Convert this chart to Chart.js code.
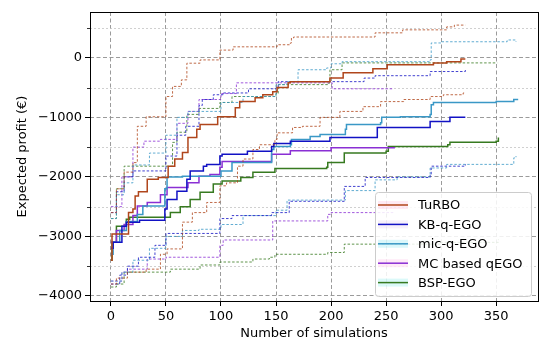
<!DOCTYPE html>
<html>
<head>
<meta charset="utf-8">
<script src="https://cdn.jsdelivr.net/npm/chart.js@4/dist/chart.umd.min.js"></script>
<style>
  html, body { margin: 0; padding: 0; background: #fff; }
</style>
</head>
<body>
<canvas id="chart" width="550" height="346"></canvas>
<script>
// --- DATA ---
const xTicks = [0, 50, 100, 150, 200, 250, 300, 350];
const yTicks = [-4000, -3000, -2000, -1000, 0];
const yMinorTicks = [-3500, -2500, -1500, -500, 500];

const seriesNames = ['TuRBO', 'KB-q-EGO', 'mic-q-EGO', 'MC based qEGO', 'BSP-EGO'];
const seriesColors = ['#b0461c', '#1212c4', '#3a98c6', '#8a2fd4', '#377a20'];
const patchColors = ['rgba(255,105,180,0.14)', 'rgba(200,150,230,0.14)', 'rgba(0,200,220,0.14)', 'rgba(255,105,200,0.14)', 'rgba(0,210,210,0.14)'];

// [simulations, expected profit]
const turboMean = [[0,-3400],[1,-2960],[15,-2960],[16,-2600],[20,-2540],[22,-2320],[25,-2250],[33,-2040],[43,-2010],[52,-1820],[58,-1700],[65,-1590],[70,-1340],[78,-1200],[81,-1120],[97,-990],[113,-840],[117,-735],[131,-670],[138,-620],[147,-570],[151,-500],[161,-420],[163,-400],[199,-340],[211,-250],[238,-185],[251,-115],[293,-85],[305,-65],[318,-20],[322,-20]];
const turboUpper = [[0,-2600],[5,-2200],[12,-1920],[20,-1760],[24,-1150],[32,-990],[50,-650],[56,-480],[64,-370],[69,-90],[81,-35],[99,130],[111,185],[151,220],[163,250],[164,335],[166,350],[240,420],[265,470],[305,520],[312,550],[322,550]];
const turboLower = [[0,-3800],[5,-3700],[15,-3600],[32,-3550],[45,-3300],[51,-3210],[65,-2760],[74,-2600],[87,-2430],[99,-2150],[105,-2100],[115,-1820],[120,-1700],[129,-1540],[135,-1460],[149,-1370],[151,-1260],[165,-1170],[174,-1150],[190,-1000],[208,-900],[229,-820],[245,-735],[266,-700],[290,-650],[302,-620],[320,-590],[322,-590]];

const kbMean = [[0,-3200],[2,-3100],[10,-2830],[14,-2760],[26,-2730],[49,-2540],[51,-2380],[60,-2240],[69,-2040],[72,-1900],[84,-1820],[87,-1790],[99,-1650],[101,-1620],[124,-1570],[146,-1490],[148,-1440],[163,-1400],[199,-1340],[242,-1170],[290,-1070],[308,-1000],[322,-1000]];
const kbUpper = [[0,-2600],[5,-2250],[12,-2000],[20,-1900],[50,-1650],[60,-1300],[68,-1150],[80,-800],[83,-700],[93,-620],[102,-590],[125,-520],[150,-500],[152,-400],[230,-340],[240,-300],[290,-230],[322,-200]];
const kbLower = [[0,-3800],[8,-3650],[15,-3500],[25,-3350],[40,-3150],[50,-2950],[75,-2950],[99,-2700],[110,-2650],[146,-2600],[162,-2410],[212,-2160],[231,-2010],[290,-1960],[291,-1820],[322,-1790]];

const micMean = [[0,-3300],[2,-3100],[8,-2900],[14,-2750],[24,-2630],[29,-2490],[49,-2200],[51,-2000],[65,-1990],[100,-1900],[110,-1760],[146,-1540],[148,-1490],[163,-1460],[164,-1370],[181,-1320],[190,-1290],[213,-1200],[214,-1120],[245,-1090],[246,-1000],[263,-990],[290,-950],[291,-790],[293,-750],[350,-735],[366,-700],[370,-700]];
const micUpper = [[0,-2700],[5,-2300],[12,-2100],[20,-1800],[35,-1600],[50,-1300],[60,-1000],[70,-900],[100,-750],[120,-650],[150,-450],[160,-400],[170,-200],[196,-170],[200,-100],[210,-65],[290,-35],[291,250],[300,270],[355,270],[360,300],[368,270]];
const micLower = [[0,-3750],[10,-3600],[20,-3400],[35,-3200],[50,-3000],[65,-2900],[80,-2880],[100,-2800],[120,-2650],[150,-2560],[160,-2390],[212,-2390],[213,-2230],[240,-2050],[260,-2000],[290,-1850],[305,-1790],[360,-1790],[366,-1680],[368,-1650]];

const mcMean = [[0,-3100],[5,-2900],[12,-2800],[20,-2650],[24,-2490],[33,-2430],[45,-2300],[51,-2180],[70,-2100],[80,-1990],[90,-1960],[99,-1840],[101,-1740],[146,-1620],[163,-1560],[200,-1510],[258,-1510]];
const mcUpper = [[0,-2500],[10,-2000],[20,-1500],[30,-1400],[45,-1370],[60,-1100],[70,-900],[80,-700],[100,-600],[114,-420],[200,-420],[201,-520],[256,-540]];
const mcLower = [[0,-3750],[10,-3600],[15,-3550],[33,-3380],[50,-3350],[99,-3150],[102,-3060],[147,-2740],[197,-2630],[200,-2600],[258,-2600]];

const bspMean = [[0,-3400],[1,-3100],[5,-2830],[14,-2710],[17,-2680],[54,-2600],[63,-2500],[72,-2380],[81,-2260],[93,-2120],[101,-2070],[118,-2010],[129,-1920],[149,-1860],[196,-1840],[197,-1760],[212,-1600],[250,-1570],[252,-1490],[306,-1460],[308,-1420],[350,-1400],[352,-1340]];
const bspUpper = [[0,-2700],[5,-2200],[12,-1820],[50,-1820],[56,-1420],[60,-1250],[69,-950],[80,-850],[99,-750],[110,-650],[150,-600],[152,-450],[198,-420],[199,-200],[210,-85],[351,-85]];
const bspLower = [[0,-3850],[5,-3800],[12,-3600],[50,-3600],[54,-3550],[65,-3550],[81,-3480],[99,-3430],[129,-3380],[144,-3350],[149,-3300],[197,-3270],[212,-3130],[300,-3100],[352,-3050]];

const seriesData = [
  [turboMean, turboUpper, turboLower],
  [kbMean, kbUpper, kbLower],
  [micMean, micUpper, micLower],
  [mcMean, mcUpper, mcLower],
  [bspMean, bspUpper, bspLower]
];

// --- HELPERS ---
const pts = (arr) => arr.map(([x, y]) => ({ x, y }));
const fmtTick = (v) => (v < 0 ? '\u2212' + Math.abs(v) : String(v));

const datasets = [];
seriesData.forEach(([mean, upper, lower], i) => {
  const color = seriesColors[i];
  datasets.push({ label: seriesNames[i], data: pts(mean), borderColor: color, borderWidth: 1.5, stepped: true, pointRadius: 0 });
  [upper, lower].forEach(b => datasets.push({
    label: seriesNames[i] + ' bound', data: pts(b), borderColor: color, borderWidth: 0.8,
    borderDash: [2.5, 1.8], stepped: true, pointRadius: 0
  }));
});

// --- PLUGINS ---
const minorGrid = {
  id: 'minorGrid',
  beforeDatasetsDraw(chart) {
    const { ctx, chartArea: a, scales: { y } } = chart;
    ctx.save();
    ctx.strokeStyle = '#c4c4c4';
    ctx.lineWidth = 0.8;
    ctx.setLineDash([2, 2]);
    yMinorTicks.forEach(v => {
      const py = Math.round(y.getPixelForValue(v)) + 0.5;
      ctx.beginPath(); ctx.moveTo(a.left, py); ctx.lineTo(a.right, py); ctx.stroke();
    });
    ctx.setLineDash([]);
    ctx.strokeStyle = '#000';
    yMinorTicks.forEach(v => {
      const py = Math.round(y.getPixelForValue(v)) + 0.5;
      ctx.beginPath(); ctx.moveTo(a.left - 3, py); ctx.lineTo(a.left, py); ctx.stroke();
    });
    ctx.restore();
  }
};

const frameAndLegend = {
  id: 'frameAndLegend',
  afterDraw(chart) {
    const { ctx, chartArea: a } = chart;
    ctx.save();
    ctx.strokeStyle = '#000';
    ctx.lineWidth = 1;
    ctx.strokeRect(a.left + 0.5, a.top + 0.5, a.right - a.left, a.bottom - a.top);

    // legend, lower right inside the axes
    const w = 156, h = 104;
    const x0 = a.right - w - 7, y0 = a.bottom - h - 5;
    ctx.fillStyle = 'rgba(255,255,255,0.85)';
    ctx.strokeStyle = '#cccccc';
    ctx.beginPath();
    ctx.roundRect(x0 + 0.5, y0 + 0.5, w, h, 3);
    ctx.fill(); ctx.stroke();

    ctx.font = '13px "DejaVu Sans"';
    ctx.textBaseline = 'middle';
    seriesNames.forEach((name, i) => {
      const ry = y0 + 13 + i * 19.4;
      ctx.fillStyle = patchColors[i];
      ctx.fillRect(x0 + 3, ry - 4, 30, 8);
      ctx.strokeStyle = seriesColors[i];
      ctx.lineWidth = 1.5;
      ctx.beginPath(); ctx.moveTo(x0 + 3, ry); ctx.lineTo(x0 + 33, ry); ctx.stroke();
      ctx.fillStyle = '#000';
      ctx.fillText(name, x0 + 43, ry + 1);
    });
    ctx.restore();
  }
};

// --- CHART ---
Chart.defaults.font.family = '"DejaVu Sans", sans-serif';
Chart.defaults.font.size = 13;
Chart.defaults.color = '#000';

const gridOpts = { color: '#909090', lineWidth: 0.9, tickLength: 5, tickColor: '#000', tickWidth: 1 };

new Chart(document.getElementById('chart'), {
  type: 'line',
  data: { datasets },
  options: {
    responsive: false,
    animation: false,
    layout: { padding: { left: 0, right: 12, top: 12, bottom: 0 } },
    plugins: { legend: { display: false }, tooltip: { enabled: false } },
    scales: {
      x: {
        type: 'linear', min: -19, max: 388,
        afterBuildTicks: (s) => { s.ticks = xTicks.map(v => ({ value: v })); },
        afterFit: (s) => { s.height = 45; },
        ticks: { padding: 3, callback: fmtTick, maxRotation: 0, autoSkip: false },
        grid: gridOpts,
        border: { display: false, dash: [4, 2.5] },
        title: { display: true, text: 'Number of simulations', padding: { top: 0, bottom: 5 } }
      },
      y: {
        type: 'linear', min: -4085, max: 770,
        afterBuildTicks: (s) => { s.ticks = yTicks.map(v => ({ value: v })); },
        afterFit: (s) => { s.width = 90; },
        ticks: { padding: 3, callback: fmtTick, autoSkip: false },
        grid: gridOpts,
        border: { display: false, dash: [4, 2.5] },
        title: { display: true, text: 'Expected profit (€)', padding: { top: 15, bottom: 0 } }
      }
    }
  },
  plugins: [minorGrid, frameAndLegend]
});
</script>
</body>
</html>
